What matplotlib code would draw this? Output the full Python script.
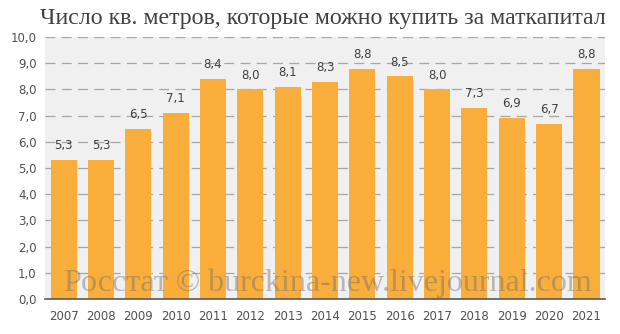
import matplotlib.pyplot as plt

# Square metres that maternity capital can buy, by year
years = ['2007', '2008', '2009', '2010', '2011', '2012', '2013', '2014',
         '2015', '2016', '2017', '2018', '2019', '2020', '2021']
sq_meters = [5.3, 5.3, 6.5, 7.1, 8.4, 8.0, 8.1, 8.3, 8.8, 8.5, 8.0, 7.3, 6.9, 6.7, 8.8]
y_ticks = [0, 1, 2, 3, 4, 5, 6, 7, 8, 9, 10]

fig = plt.figure(figsize=(6.2, 3.34), dpi=100)
ax = fig.add_axes([0.0726, 0.1048, 0.9034, 0.7842])
ax.set_facecolor('#f0f0f0')

x = range(len(years))
ax.bar(x, sq_meters, width=0.7, color='#f9ad3a', zorder=3)

for i, v in enumerate(sq_meters):
    ax.text(i, v + 0.3, f'{v:.1f}'.replace('.', ','), ha='center', va='bottom',
            fontsize=8.5, color='#404040', zorder=4)

ax.set_xlim(-0.5, len(years) - 0.5)
ax.set_ylim(0, 10)
ax.set_yticks(y_ticks)
ax.set_yticklabels([f'{t:.1f}'.replace('.', ',') for t in y_ticks])
ax.set_xticks(list(x))
ax.set_xticklabels(years)
ax.tick_params(axis='both', length=0, labelsize=8.5, labelcolor='#505050')
ax.tick_params(axis='x', pad=8)
ax.tick_params(axis='y', pad=6)

ax.grid(axis='y', color='#a6a6a6', linestyle=(0, (8, 5)), linewidth=0.9, zorder=1)
for side in ['left', 'right', 'top']:
    ax.spines[side].set_visible(False)
ax.spines['bottom'].set_color('#595959')
ax.spines['bottom'].set_linewidth(1.2)
ax.spines['bottom'].set_zorder(5)

fig.text(0.52, 0.945, 'Число кв. метров, которые можно купить за маткапитал',
         ha='center', va='center', fontsize=17.2, color='#404040',
         family='Liberation Serif')

# watermark over the bars
ax.text(0.505, 0.06, 'Росстат © burckina-new.livejournal.com', transform=ax.transAxes,
        ha='center', va='center', fontsize=23, color='#707070', alpha=0.45,
        family='Liberation Serif', zorder=6)

fig.savefig('out.png', dpi=100)
